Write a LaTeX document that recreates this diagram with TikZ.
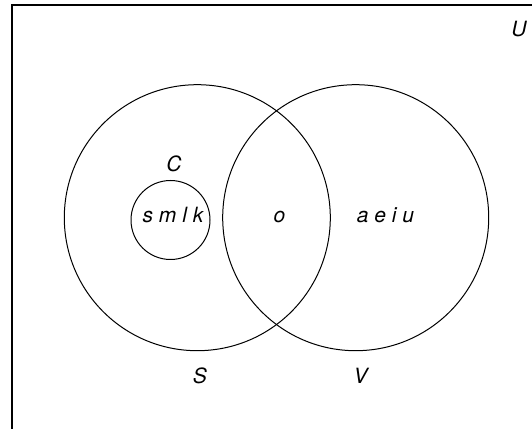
\documentclass[tikz,border=0pt]{standalone}
\usepackage{fontspec}
\setmainfont{TeX Gyre Heros}
\begin{document}
\begin{tikzpicture}[x=1pt,y=1pt,
  lbl/.style={font=\fontsize{21}{25}\selectfont\itshape, inner sep=0pt, anchor=base},
  setcircle/.style={draw, circle, inner sep=0pt, line width=1pt},
  universe/.style={draw, line width=1.4pt}]
\useasboundingbox (0,0) rectangle (532,428);
\draw[universe] (12,-20) -- (12,423) -- (560,423);
\node[setcircle, minimum size=266pt] (S) at (197.3,210.3) {};
\node[setcircle, minimum size=266pt] (V) at (355.7,210.3) {};
\node[setcircle, minimum size=79pt] (C) at (170.5,208) {};
\node[lbl] (u) at (519,391) {U};
\node[lbl] (cl) at (174,256.3) {C};
\node[lbl] (smlk) at (173,205.5) {s m l k};
\node[lbl] (o) at (279.5,205.5) {o};
\node[lbl] (aeiu) at (385.5,205.5) {a e i u};
\node[lbl] (sl) at (200,45) {S};
\node[lbl] (vl) at (360.5,45) {V};
\end{tikzpicture}
\end{document}
